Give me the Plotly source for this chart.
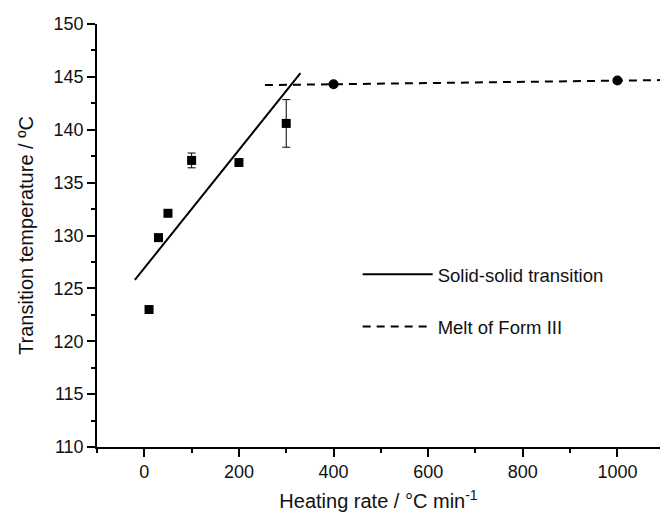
import plotly.graph_objects as go

# Data
sq_x = [10, 30, 50, 100, 200, 300]
sq_y = [123.0, 129.8, 132.1, 137.1, 136.9, 140.6]
sq_err = [0, 0, 0, 0.7, 0, 2.25]

circ_x = [400, 1000]
circ_y = [144.3, 144.65]

fit_x = [-20, 330]
fit_y = [125.8, 145.35]

melt_x = [255, 1100]
melt_y = [144.22, 144.7]

x_range = [-100, 1090]
y_range = [110, 150]
x_ticks = [0, 200, 400, 600, 800, 1000]
y_ticks = [110, 115, 120, 125, 130, 135, 140, 145, 150]

FONT = "Arial, Liberation Sans, sans-serif"
TXT = "#111"

fig = go.Figure()

fig.add_trace(go.Scatter(
    x=fit_x, y=fit_y, mode="lines", name="Solid-solid transition",
    line=dict(color="black", width=2), legendgroup="a", showlegend=True))

fig.add_trace(go.Scatter(
    x=melt_x, y=melt_y, mode="lines", name="Melt of Form III",
    line=dict(color="black", width=2, dash="8px,6px"), legendgroup="b", showlegend=True))

fig.add_trace(go.Scatter(
    x=sq_x, y=sq_y, mode="markers", showlegend=False,
    marker=dict(symbol="square", size=9, color="black"),
    error_y=dict(type="data", array=sq_err, visible=True, color="black",
                 thickness=1, width=4)))

fig.add_trace(go.Scatter(
    x=circ_x, y=circ_y, mode="markers", showlegend=False,
    marker=dict(symbol="circle", size=10, color="black")))

axis_common = dict(
    showline=True, linecolor="black", linewidth=1.5, mirror=False,
    showgrid=False, zeroline=False, ticks="outside", ticklen=8, tickwidth=1.5,
    tickcolor="black", tickfont=dict(family=FONT, size=18, color=TXT),
)

fig.update_xaxes(
    range=x_range, tickvals=x_ticks, **axis_common,
    minor=dict(ticks="outside", ticklen=4, dtick=100, tick0=0, tickcolor="black", tickwidth=1.5),
    title=dict(text="Heating rate / °C min<sup>-1</sup>", font=dict(family=FONT, size=20, color=TXT), standoff=13),
)
fig.update_yaxes(
    range=y_range, tickvals=y_ticks, **axis_common,
    minor=dict(ticks="outside", ticklen=4, dtick=2.5, tick0=110, tickcolor="black", tickwidth=1.5),
    title=dict(text="Transition temperature / ºC", font=dict(family=FONT, size=20, color=TXT), standoff=15),
)

fig.update_layout(
    width=660, height=513,
    margin=dict(l=97, r=0, t=24, b=66),
    paper_bgcolor="white", plot_bgcolor="white",
    font=dict(family=FONT, color=TXT),
    legend=dict(x=0.463, y=0.452, xanchor="left", yanchor="top",
                bgcolor="rgba(0,0,0,0)", itemwidth=70, tracegroupgap=25,
                font=dict(family=FONT, size=18.5, color=TXT)),
)

fig.write_html("out.html")
